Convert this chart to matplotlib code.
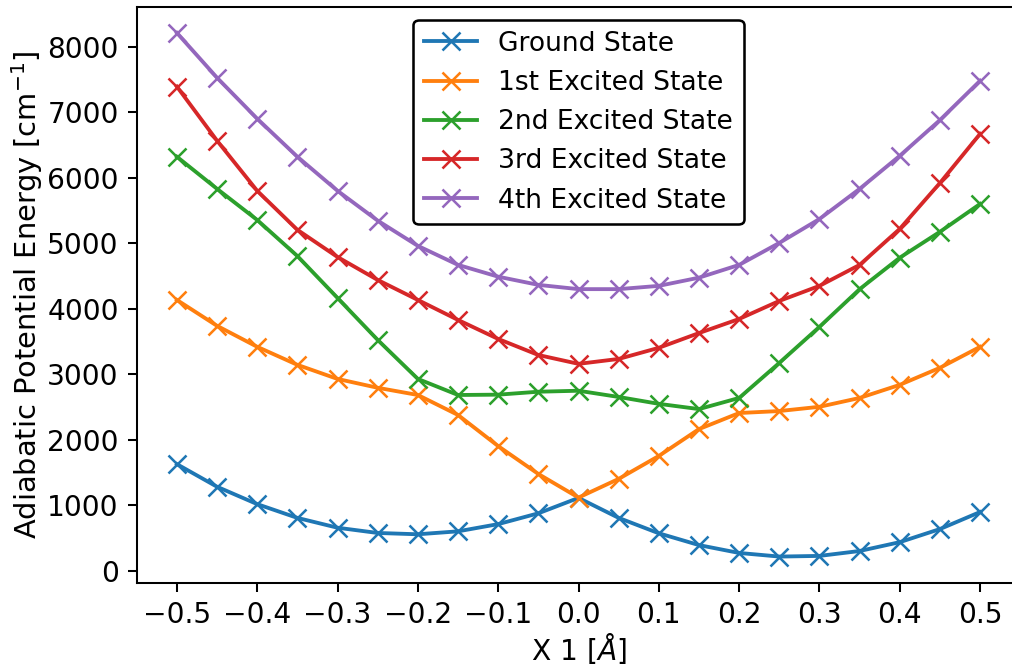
import matplotlib
matplotlib.use('Agg')
import matplotlib.pyplot as plt

x = [-0.5, -0.45, -0.4, -0.35, -0.3, -0.25, -0.2, -0.15, -0.1, -0.05, 0.0,
     0.05, 0.1, 0.15, 0.2, 0.25, 0.3, 0.35, 0.4, 0.45, 0.5]

ground = [1630, 1285, 1020, 810, 660, 580, 560, 605, 715, 880, 1115,
          810, 575, 395, 275, 220, 230, 305, 440, 640, 900]
first = [4135, 3740, 3420, 3145, 2930, 2795, 2685, 2380, 1905, 1480, 1120,
         1405, 1755, 2165, 2410, 2440, 2505, 2640, 2840, 3100, 3420]
second = [6320, 5830, 5355, 4805, 4165, 3525, 2930, 2685, 2690, 2735, 2750,
          2655, 2550, 2470, 2640, 3175, 3725, 4300, 4780, 5175, 5600]
third = [7390, 6565, 5800, 5205, 4790, 4440, 4135, 3830, 3540, 3295, 3160,
         3235, 3405, 3630, 3845, 4120, 4350, 4670, 5220, 5920, 6670]
fourth = [8210, 7525, 6900, 6320, 5800, 5345, 4960, 4670, 4490, 4365, 4300,
          4300, 4350, 4475, 4670, 5005, 5370, 5830, 6335, 6880, 7480]

labels = ['Ground State', '1st Excited State', '2nd Excited State',
          '3rd Excited State', '4th Excited State']

fig = plt.figure(figsize=(1012/184, 666/184), dpi=184)
ax = fig.add_axes([0.1351, 0.125, 0.8731, 0.865])

for y, lab in zip([ground, first, second, third, fourth], labels):
    ax.plot(x, y, marker='x', markersize=7, label=lab)

ax.set_xticks([-0.5, -0.4, -0.3, -0.2, -0.1, 0.0, 0.1, 0.2, 0.3, 0.4, 0.5])
ax.tick_params(labelsize=11)
ax.set_xlabel(r'X 1 [$\AA$]', fontsize=11, labelpad=1)
ax.set_ylabel(r'Adiabatic Potential Energy [cm$^{-1}$]', fontsize=11.3, labelpad=1)
ax.legend(loc='upper center', edgecolor='black', framealpha=1, fontsize=10.4)

fig.savefig('out.png', dpi=184)
